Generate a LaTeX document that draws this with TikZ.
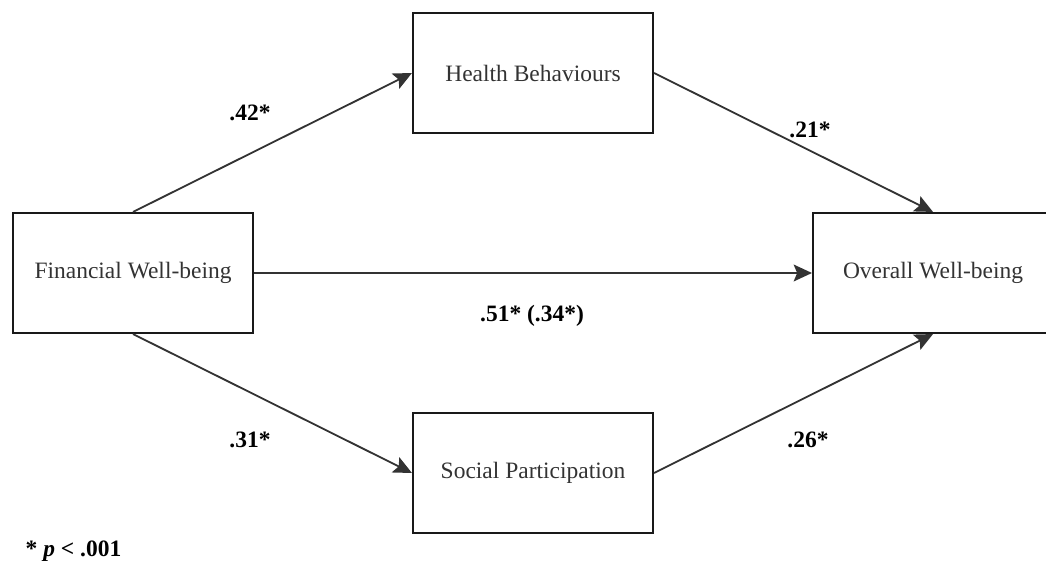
\documentclass[tikz,border=0pt]{standalone}
\usepackage{fontspec}
\setmainfont{Liberation Serif}
\usetikzlibrary{arrows.meta,positioning}
\definecolor{inkgrey}{HTML}{333333}

\begin{document}
\begin{tikzpicture}[font=\fontsize{16.7}{20}\selectfont,
   var/.style={draw=black!90,line width=1.5pt,minimum width=6cm,minimum height=3cm,
               inner sep=0pt,text=inkgrey},
   link/.style={line width=1.3pt,draw=black!80,
                -{Stealth[length=13pt,width=12pt,inset=2.5pt]}},
   coef/.style={font=\fontsize{16.7}{20}\selectfont\bfseries,inner sep=1pt}]
  \useasboundingbox (0,0) rectangle (26.15,14.225);
  % variables
  \node[var] (fin) at (3.325,7.4) {Financial Well-being};
  \node[var] (hb) at (13.325,12.4) {Health Behaviours};
  \node[var] (sp) at (13.325,2.4) {Social Participation};
  \node[var] (owb) at (23.325,7.4) {Overall Well-being};
  % paths
  \draw[link] (fin.north) -- (hb.west);
  \draw[link] (hb.east) -- (owb.north);
  \draw[link] (fin.south) -- (sp.west);
  \draw[link] (sp.east) -- (owb.south);
  \draw[link] (fin.east) -- (owb.west);
  % coefficients
  \node[coef] (a1) at (6.25,11.4) {.42*};
  \node[coef] (b1) at (20.25,10.975) {.21*};
  \node[coef] (a2) at (6.25,3.225) {.31*};
  \node[coef] (b2) at (20.2,3.225) {.26*};
  \node[coef] (c) at (13.3,6.325) {.51* (.34*)};
  \node[coef,anchor=west] (note) at (0.6,0.45) {* \textit{p} < .001};
\end{tikzpicture}
\end{document}
